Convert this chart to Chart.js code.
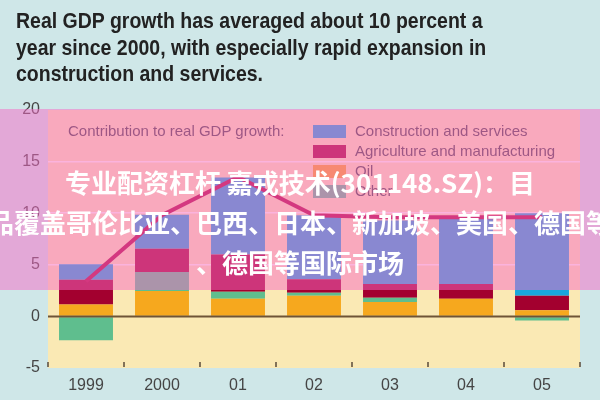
<!DOCTYPE html>
<html>
<head>
<meta charset="utf-8">
<script src="https://cdn.jsdelivr.net/npm/chart.js@4.4.1/dist/chart.umd.min.js"></script>
<style>
  html, body { margin: 0; padding: 0; }
  body {
    width: 600px; height: 400px; overflow: hidden; position: relative;
    background: #cfe7e8;
    font-family: 'Liberation Sans Narrow', 'Liberation Sans', Arial, sans-serif;
  }
  #chart { position: absolute; left: 0; top: 0; }
  .title {
    position: absolute; left: 16px; white-space: nowrap;
    font-weight: bold; font-size: 22px; line-height: 26px; color: #222;
    transform-origin: 0 50%;
  }
  #legend { position: absolute; left: 0; top: 0; width: 600px; height: 400px; }
  .lg-text { position: absolute; font-size: 15px; line-height: 20px; color: #454545; white-space: nowrap; }
  .lg-box { position: absolute; width: 33px; height: 13px; }
  #band {
    position: absolute; left: 0; top: 109px; width: 600px; height: 181px;
    background: rgba(248, 106, 197, 0.5);
  }
  .wm {
    position: absolute; left: -100px; width: 800px; text-align: center; white-space: nowrap;
    font-family: 'Noto Sans CJK SC', sans-serif; font-weight: bold; font-size: 26px;
    line-height: 40px; color: #fff;
  }
</style>
</head>
<body>
<canvas id="chart" width="600" height="400"></canvas>

<div class="title" id="t1" style="top:8px">Real GDP growth has averaged about 10 percent a</div>
<div class="title" id="t2" style="top:35px">year since 2000, with especially rapid expansion in</div>
<div class="title" id="t3" style="top:61px">construction and services.</div>

<div id="legend"></div>
<div id="band"></div>
<div class="wm" style="top:162px">专业配资杠杆 嘉戎技术(301148.SZ)：目</div>
<div class="wm" style="top:202px">品覆盖哥伦比亚、巴西、日本、新加坡、美国、德国等</div>
<div class="wm" style="top:242px">、德国等国际市场</div>

<script>
// years on the x axis
const years = ['1999', '2000', '01', '02', '03', '04', '05'];

// contributions to real GDP growth, percentage points
const oilContrib      = [1.15, 2.45, 1.7, 2.0, 1.4, 1.7, 0.6];
const otherContrib    = [-2.3, 1.85, 0.7, 0.3, 0.4, 0, -0.4];
const agriContrib     = [2.4, 2.25, 3.6, 1.3, 1.35, 1.45, 1.4];
const servicesContrib = [1.5, 3.3, 7.45, 6.2, 6.15, 6.45, 8.0];

// real GDP growth, percent
const gdpGrowth = [3.4, 9.8, 13.5, 9.8, 9.6, 9.6, 9.6];

const yTicks = [-5, 0, 5, 10, 15, 20];

const legendNames = ['Construction and services', 'Agriculture and manufacturing', 'Oil', 'Other'];
const legendColors = ['#1aa7dc', '#a3002f', '#f6a81e', '#5fbe8e'];

// title lines are set in a condensed face, squeeze to the reference width
function fitTitle() {
    const t1 = document.getElementById('t1');
    t1.style.transform = 'none';
    const s = 467 / t1.scrollWidth;
    ['t1', 't2', 't3'].forEach(id => {
        document.getElementById(id).style.transform = 'scaleX(' + s + ')';
    });
}
fitTitle();
if (document.fonts) document.fonts.ready.then(fitTitle);

// legend
const legend = document.getElementById('legend');
legend.innerHTML = '<div class="lg-text" style="left:68px;top:121px">Contribution to real GDP growth:</div>' +
    legendNames.map((name, i) => {
        const top = 121 + i * 20;
        return '<div class="lg-box" style="left:313px;top:' + (top + 4) + 'px;background:' + legendColors[i] + '"></div>' +
               '<div class="lg-text" style="left:355px;top:' + top + 'px">' + name + '</div>';
    }).join('');

// plot background + zero line + small ticks at category edges
const plotDecor = {
    id: 'plotDecor',
    beforeDraw(chart) {
        const { ctx, chartArea: a } = chart;
        ctx.save();
        ctx.fillStyle = '#fae9b4';
        ctx.fillRect(a.left, a.top, a.right - a.left, a.bottom - a.top);
        ctx.restore();
    },
    afterDatasetsDraw(chart) {
        const { ctx, chartArea: a, scales } = chart;
        const y0 = scales.y.getPixelForValue(0);
        ctx.save();
        ctx.strokeStyle = '#6e5436';
        ctx.lineWidth = 2;
        ctx.beginPath();
        ctx.moveTo(a.left, y0);
        ctx.lineTo(a.right, y0);
        ctx.stroke();

        const step = (a.right - a.left) / years.length;
        ctx.strokeStyle = '#5a4a3a';
        ctx.lineWidth = 1.5;
        for (let i = 0; i <= years.length; i++) {
            const x = scales.x.getPixelForValue(i) - step / 2;
            ctx.beginPath();
            ctx.moveTo(x, a.bottom - 6);
            ctx.lineTo(x, a.bottom - 1);
            ctx.stroke();
        }
        ctx.restore();
    }
};

const fontFamily = "'Liberation Sans Narrow', 'Liberation Sans', Arial, sans-serif";

new Chart(document.getElementById('chart'), {
    type: 'bar',
    data: {
        labels: years,
        datasets: [
            { label: 'Real GDP growth', type: 'line', data: gdpGrowth, stack: 'growth',
              borderColor: '#b0073b', borderWidth: 4, pointRadius: 0, tension: 0, order: 0 },
            { label: 'Oil', data: oilContrib, backgroundColor: legendColors[2], stack: 'c', order: 1 },
            { label: 'Other', data: otherContrib, backgroundColor: legendColors[3], stack: 'c', order: 1 },
            { label: 'Agriculture and manufacturing', data: agriContrib, backgroundColor: legendColors[1], stack: 'c', order: 1 },
            { label: 'Construction and services', data: servicesContrib, backgroundColor: legendColors[0], stack: 'c', order: 1 }
        ]
    },
    options: {
        responsive: false,
        animation: false,
        devicePixelRatio: 1,
        layout: { padding: { top: 110, right: 20, bottom: 0, left: 0 } },
        datasets: {
            bar: { barPercentage: 1, categoryPercentage: 0.71, borderWidth: 0 }
        },
        plugins: {
            legend: { display: false },
            tooltip: { enabled: false }
        },
        scales: {
            x: {
                stacked: true,
                grid: { display: false, drawTicks: false },
                border: { display: false },
                ticks: { color: '#454545', padding: 8, font: { family: fontFamily, size: 16 } },
                afterFit(s) { s.height = 32; }
            },
            y: {
                stacked: true,
                min: -5, max: 20,
                afterBuildTicks(s) { s.ticks = yTicks.map(v => ({ value: v })); },
                grid: {
                    drawTicks: false,
                    color: c => (c.tick.value === 5 || c.tick.value === 10 || c.tick.value === 15) ? 'rgba(255,255,255,0.85)' : 'transparent',
                    lineWidth: 1.5
                },
                border: { display: false },
                ticks: { color: '#454545', padding: 8, font: { family: fontFamily, size: 16 } },
                afterFit(s) { s.width = 48; }
            }
        }
    },
    plugins: [plotDecor]
});
</script>
</body>
</html>
